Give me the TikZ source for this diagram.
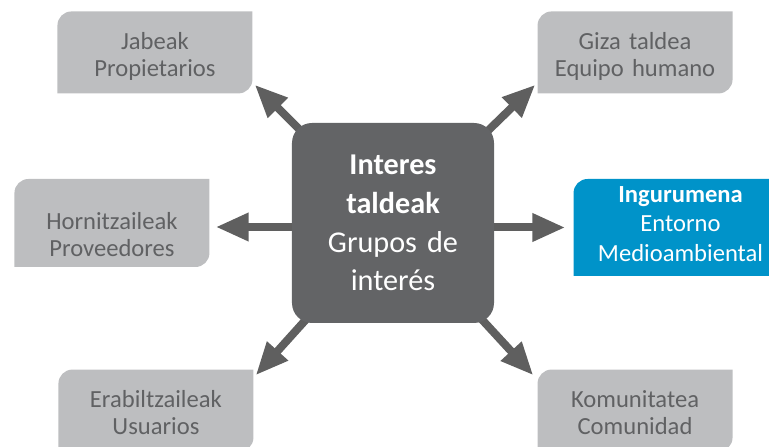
\documentclass[tikz,border=0pt]{standalone}
\usepackage{fontspec}
\setmainfont{Carlito}
\usepackage{tikz}
\usetikzlibrary{arrows.meta,positioning,backgrounds}
\definecolor{stakegray}{HTML}{BDBEC0}
\definecolor{staketext}{HTML}{606163}
\definecolor{stakedark}{HTML}{636466}
\definecolor{stakearrow}{HTML}{5F5F5F}
\definecolor{stakeblue}{HTML}{0093C9}

\begin{document}
\begin{tikzpicture}[
    every node/.style={font=\fontsize{17.5}{20}\selectfont},
    leaf/.style={path picture={
        \fill[#1] (path picture bounding box.south west)
            -- ([yshift=-0.35cm]path picture bounding box.north west)
            arc[start angle=180, end angle=90, radius=0.35cm]
            -- (path picture bounding box.north east)
            -- ([yshift=0.35cm]path picture bounding box.south east)
            arc[start angle=0, end angle=-90, radius=0.35cm] -- cycle;}},
    hub/.style={rectangle, fill=stakedark, text=white, text width=4.6cm, text centered,
                minimum width=5.05cm, minimum height=5cm, rounded corners=0.5cm,
                font=\fontsize{21.5}{27.5}\selectfont},
    panel/.style={rectangle, text width=4.6cm, text centered, minimum width=4.875cm,
                  minimum height=2.05cm, inner sep=0pt, execute at end node={\rule[-5pt]{0pt}{5pt}}},
    group/.style={panel, leaf=stakegray, text=staketext, font=\fontsize{17.5}{19.2}\selectfont,
                  execute at begin node={\rule{0pt}{19.8pt}}},
    focus/.style={panel, leaf=stakeblue, text=white, text width=5cm, minimum width=5.35cm,
                  minimum height=2.425cm, font=\fontsize{17.5}{21}\selectfont},
    arrow/.style={-{Triangle[length=0.82cm,width=0.66cm]}, line width=0.2cm, color=stakearrow}
]
    \useasboundingbox (-9.825,5.575) rectangle (9.4,-5.6);

    \node[hub] (hub) at (0,0) {\textbf{Interes}\\\textbf{taldeak}\\Grupos de\\interés};
    \node[group, above left=0.725cm and 0.975cm of hub] (owners) {Jabeak\\Propietarios};
    \node[group, above right=0.725cm and 1.075cm of hub] (staff) {Giza taldea\\Equipo humano};
    \node[group, left=2.05cm of hub, minimum height=2.2cm,
          execute at begin node={\rule{0pt}{34pt}}] (suppliers) {Hornitzaileak\\Proveedores};
    \node[focus, right=1.975cm of hub, yshift=-0.1125cm] (environment) {\textbf{Ingurumena}\\Entorno\\Medioambiental};
    \node[group, below left=1.15cm and 0.95cm of hub] (users) {Erabiltzaileak\\Usuarios};
    \node[group, below right=1.15cm and 1.075cm of hub] (community) {Komunitatea\\Comunidad};

    \begin{scope}[on background layer]
    \draw[arrow] (hub.center) -- ([xshift=0.05cm, yshift=0.225cm]owners.south east);
    \draw[arrow] (hub.center) -- ([xshift=-0.05cm, yshift=0.225cm]staff.south west);
    \draw[arrow, shorten >=0.15cm] ([yshift=-0.1cm]hub.center) -- ([yshift=-0.1cm]suppliers.east);
    \draw[arrow, shorten >=0.2cm] (hub.center |- environment.west) -- (environment.west);
    \draw[arrow] (hub.center) -- ([xshift=0.05cm, yshift=-0.15cm]users.north east);
    \draw[arrow] (hub.center) -- ([xshift=-0.1cm, yshift=-0.15cm]community.north west);
    \end{scope}
\end{tikzpicture}
\end{document}
